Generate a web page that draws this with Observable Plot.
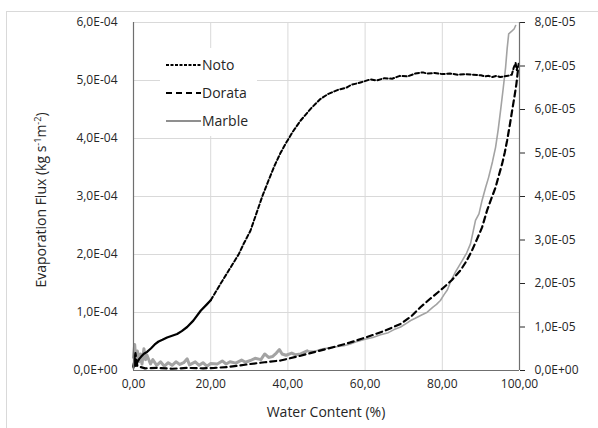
<!DOCTYPE html>
<html>
<head>
<meta charset="utf-8">
<script src="https://cdn.jsdelivr.net/npm/d3@7"></script>
<script src="https://cdn.jsdelivr.net/npm/@observablehq/plot@0.6"></script>
<style>
  html, body { margin: 0; padding: 0; background: #fff; overflow: hidden; }
  #wrap { position: relative; width: 598px; height: 428px; }
  #frame { position: absolute; left: 6px; top: 11px; width: 600px; height: 430px; border: 1px solid #d9d9d9; box-sizing: border-box; }
  #chart { position: absolute; left: 0; top: 0; }
</style>
</head>
<body>
<div id="wrap"><div id="frame"></div><div id="chart"></div></div>
<script>
// ---- axes ----
const xTicks = [0, 20, 40, 60, 80, 100];
const xLabels = ["0,00", "20,00", "40,00", "60,00", "80,00", "100,00"];
const leftTicks = [0, 1e-4, 2e-4, 3e-4, 4e-4, 5e-4, 6e-4];
const leftLabels = ["0,0E+00", "1,0E-04", "2,0E-04", "3,0E-04", "4,0E-04", "5,0E-04", "6,0E-04"];
const rightTicks = [0, 1e-5, 2e-5, 3e-5, 4e-5, 5e-5, 6e-5, 7e-5, 8e-5];
const rightLabels = ["0,0E+00", "1,0E-05", "2,0E-05", "3,0E-05", "4,0E-05", "5,0E-05", "6,0E-05", "7,0E-05", "8,0E-05"];
const seriesNames = ["Noto", "Dorata", "Marble"];

// ---- Noto (left axis, kg s-1 m-2) ----
const notoX = [0, 0.3, 0.6, 1.0, 1.5, 2.0, 2.7, 3.5, 4.5, 5.5, 6.5, 7.5, 8.7, 10, 11.3, 12.5, 13.9, 15.5, 17.4, 19, 20, 22.5, 25, 27.3, 28.5, 30.3, 31.8, 33.3, 35, 36.4, 38, 39.4, 41.3, 43.3, 46, 48.4, 50.5, 53, 55.3, 56.5, 58, 59, 61.4, 63, 65, 67, 69, 71, 73, 75, 76, 78, 80, 82, 84, 86, 88, 90, 91, 92, 93, 94, 95, 96, 97, 98, 98.5, 99, 99.3, 99.6];
const notoY = [0.05e-4, 0.22e-4, 0.08e-4, 0.15e-4, 0.20e-4, 0.24e-4, 0.29e-4, 0.32e-4, 0.38e-4, 0.45e-4, 0.50e-4, 0.53e-4, 0.57e-4, 0.60e-4, 0.63e-4, 0.68e-4, 0.75e-4, 0.86e-4, 1.03e-4, 1.14e-4, 1.21e-4, 1.49e-4, 1.76e-4, 2.01e-4, 2.18e-4, 2.41e-4, 2.70e-4, 2.99e-4, 3.28e-4, 3.51e-4, 3.74e-4, 3.91e-4, 4.12e-4, 4.31e-4, 4.52e-4, 4.68e-4, 4.77e-4, 4.84e-4, 4.88e-4, 4.93e-4, 4.95e-4, 4.97e-4, 5.02e-4, 5.00e-4, 5.04e-4, 5.03e-4, 5.08e-4, 5.07e-4, 5.12e-4, 5.14e-4, 5.12e-4, 5.13e-4, 5.11e-4, 5.12e-4, 5.10e-4, 5.11e-4, 5.10e-4, 5.09e-4, 5.07e-4, 5.08e-4, 5.06e-4, 5.08e-4, 5.06e-4, 5.07e-4, 5.08e-4, 5.10e-4, 5.22e-4, 5.30e-4, 5.18e-4, 5.28e-4];

// ---- Dorata (right axis) ----
const dorataX = [0, 0.5, 1, 3, 6, 10, 14, 18, 21, 24.3, 27, 30.3, 34, 38.1, 40.5, 43.3, 47.5, 51.9, 56, 60.5, 65, 69.2, 72, 74.4, 77, 80, 82.5, 84.7, 86.3, 87.7, 89, 90.3, 91.6, 92.7, 93.8, 94.7, 95.5, 96.2, 96.8, 97.5, 98.1, 98.7, 99.2, 99.8];
const dorataY = [0.1e-5, 0.4e-5, 0.1e-5, 0.05e-5, 0.06e-5, 0.04e-5, 0.06e-5, 0.05e-5, 0.06e-5, 0.08e-5, 0.11e-5, 0.15e-5, 0.19e-5, 0.23e-5, 0.28e-5, 0.34e-5, 0.44e-5, 0.54e-5, 0.64e-5, 0.77e-5, 0.91e-5, 1.07e-5, 1.25e-5, 1.46e-5, 1.66e-5, 1.88e-5, 2.08e-5, 2.30e-5, 2.52e-5, 2.76e-5, 3.02e-5, 3.29e-5, 3.68e-5, 3.95e-5, 4.21e-5, 4.50e-5, 4.75e-5, 5.02e-5, 5.29e-5, 5.65e-5, 5.98e-5, 6.30e-5, 6.59e-5, 7.05e-5];

// ---- Marble (right axis) ----
const marbleX = [0, 0.3, 0.6, 1, 1.4, 1.8, 2.2, 2.7, 3.1, 3.5, 4.4, 5, 6, 7, 8, 9, 10, 11, 12, 13, 13.9, 14.5, 16, 17, 18, 19, 20, 21.7, 23, 24, 25, 26.5, 28, 29, 30.3, 31.5, 33, 34, 35, 36, 37, 37.8, 38.5, 39.5, 41, 42, 43.3, 45, 47, 49, 51, 53, 54.5, 56.2, 58, 60, 62, 64, 66, 67.5, 69.2, 71, 71.8, 73, 74.5, 76.1, 77.5, 78.5, 79.5, 80.5, 81.3, 82.1, 83.5, 85.2, 86.3, 87.3, 88, 88.6, 89.5, 90.3, 91.2, 92.0, 93, 93.8, 94.5, 95.1, 95.8, 96.4, 96.8, 97.2, 98, 98.6, 99];
const marbleY = [0.3e-5, 0.6e-5, 0.25e-5, 0.45e-5, 0.2e-5, 0.38e-5, 0.15e-5, 0.5e-5, 0.25e-5, 0.35e-5, 0.15e-5, 0.25e-5, 0.12e-5, 0.2e-5, 0.1e-5, 0.18e-5, 0.12e-5, 0.2e-5, 0.14e-5, 0.18e-5, 0.27e-5, 0.13e-5, 0.2e-5, 0.12e-5, 0.18e-5, 0.1e-5, 0.16e-5, 0.15e-5, 0.22e-5, 0.15e-5, 0.2e-5, 0.17e-5, 0.24e-5, 0.19e-5, 0.23e-5, 0.28e-5, 0.25e-5, 0.38e-5, 0.3e-5, 0.32e-5, 0.4e-5, 0.48e-5, 0.38e-5, 0.35e-5, 0.4e-5, 0.36e-5, 0.38e-5, 0.45e-5, 0.44e-5, 0.5e-5, 0.52e-5, 0.55e-5, 0.57e-5, 0.61e-5, 0.67e-5, 0.72e-5, 0.76e-5, 0.82e-5, 0.87e-5, 0.94e-5, 1.0e-5, 1.1e-5, 1.15e-5, 1.2e-5, 1.27e-5, 1.34e-5, 1.45e-5, 1.52e-5, 1.61e-5, 1.75e-5, 1.85e-5, 2.03e-5, 2.28e-5, 2.53e-5, 2.70e-5, 2.91e-5, 3.2e-5, 3.45e-5, 3.60e-5, 3.91e-5, 4.2e-5, 4.44e-5, 4.8e-5, 5.13e-5, 5.55e-5, 5.98e-5, 6.5e-5, 6.97e-5, 7.4e-5, 7.74e-5, 7.8e-5, 7.85e-5, 7.93e-5];

// ---- build tables ----
const K = 6e-4 / 8e-5; // secondary-axis ratio
const noto = notoX.map((x, i) => ({x, v: notoY[i]}));
const dorata = dorataX.map((x, i) => ({x, v: dorataY[i]}));
const marble = marbleX.map((x, i) => ({x, v: marbleY[i]}));
const rightPos = rightTicks.map(t => t * K);

const plot = Plot.plot({
  width: 598, height: 428,
  marginLeft: 133, marginRight: 79, marginTop: 22, marginBottom: 58,
  x: {domain: [0, 100]},
  y: {domain: [0, 6e-4]},
  style: {fontFamily: "Open Sans", fontSize: "12px", color: "#262626", background: "transparent"},
  marks: [
    Plot.gridY(leftTicks.slice(1), {stroke: "#d9d9d9", strokeOpacity: 1}),
    Plot.gridX(xTicks.slice(1, -1), {stroke: "#d9d9d9", strokeOpacity: 1}),
    Plot.axisY(leftTicks, {anchor: "left", tickSize: 0, tickPadding: 16, label: null,
      tickFormat: d => leftLabels[leftTicks.indexOf(d)]}),
    Plot.axisY(rightPos, {anchor: "right", tickSize: 5, tickPadding: 10, label: null,
      tickFormat: d => rightLabels[rightPos.indexOf(d)]}),
    Plot.axisX(xTicks, {tickSize: 0, tickPadding: 9, label: null,
      tickFormat: d => xLabels[xTicks.indexOf(d)]}),
    Plot.line(marble.filter(d => d.x <= 45), {x: "x", y: d => d.v * K, stroke: "#a3a3a3", strokeWidth: 3}),
    Plot.line(marble.filter(d => d.x >= 45), {x: "x", y: d => d.v * K, stroke: "#a3a3a3", strokeWidth: 1.6}),
    Plot.line(dorata, {x: "x", y: d => d.v * K, stroke: "#000", strokeWidth: 2.2, strokeDasharray: "6,4"}),
    Plot.line(noto.filter(d => d.x <= 20), {x: "x", y: "v", stroke: "#000", strokeWidth: 2.2}),
    Plot.line(noto.filter(d => d.x >= 20), {x: "x", y: "v", stroke: "#000", strokeWidth: 2, strokeDasharray: "4,2.5"}),
    Plot.ruleX([0, 100], {stroke: "#6f6f6f", strokeWidth: 1.2}),
    Plot.ruleY([0], {stroke: "#6f6f6f", strokeWidth: 1.2})
  ]
});
document.getElementById("chart").appendChild(plot);

// ---- titles ----
const svg = d3.select(plot);
svg.append("text")
  .attr("x", 326).attr("y", 417)
  .attr("text-anchor", "middle")
  .attr("font-family", "Open Sans").attr("font-size", 14).attr("fill", "#262626")
  .text("Water Content (%)");
const yt = svg.append("text")
  .attr("transform", "translate(46,200) rotate(-90)")
  .attr("text-anchor", "middle")
  .attr("font-family", "Open Sans").attr("font-size", 14).attr("fill", "#262626");
yt.append("tspan").text("Evaporation Flux (kg s");
yt.append("tspan").attr("dy", -5).attr("font-size", 9).text("-1");
yt.append("tspan").attr("dy", 5).text("m");
yt.append("tspan").attr("dy", -5).attr("font-size", 9).text("-2");
yt.append("tspan").attr("dy", 5).text(")");

// ---- legend ----
const lg = svg.append("g");
lg.append("rect").attr("x", 160).attr("y", 48).attr("width", 97).attr("height", 88).attr("fill", "#fff");
const dashes = ["3,1.5", "6,4", null];
const strokes = ["#000", "#000", "#6a6a6a"];
const widths = [1.8, 2.2, 1.5];
seriesNames.forEach((name, i) => {
  const y = 65 + i * 28;
  const ln = lg.append("line").attr("x1", 166).attr("x2", 201).attr("y1", y).attr("y2", y)
    .attr("stroke", strokes[i]).attr("stroke-width", widths[i]);
  if (dashes[i]) ln.attr("stroke-dasharray", dashes[i]);
  lg.append("text").attr("x", 202).attr("y", y).attr("dy", "0.35em")
    .attr("text-anchor", "start")
    .attr("font-family", "Open Sans").attr("font-size", 14).attr("fill", "#262626").text(name);
});
</script>
</body>
</html>
